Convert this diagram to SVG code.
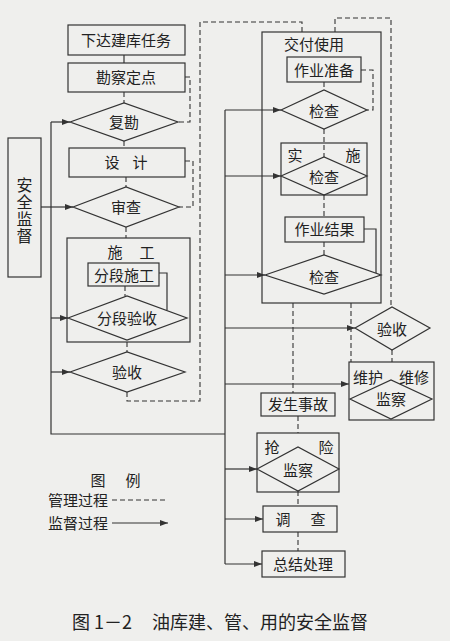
<svg xmlns="http://www.w3.org/2000/svg" width="450" height="641" viewBox="0 0 450 641">
<style>
.b{fill:none;stroke:#333;stroke-width:1.2}
.d{fill:none;stroke:#333;stroke-width:1.1;stroke-dasharray:5 3}
.s{fill:none;stroke:#333;stroke-width:1.2}
.a{fill:none;stroke:#333;stroke-width:1.2;marker-end:url(#ah)}
.t{font-family:"Noto Sans CJK SC","Noto Sans",sans-serif;font-size:15px;fill:#222;text-anchor:middle}
.l{font-family:"Noto Sans CJK SC","Noto Sans",sans-serif;font-size:15px;fill:#222}
.c{font-family:"Noto Sans CJK SC","Noto Sans",sans-serif;font-size:18px;fill:#222}
.v{font-family:"Noto Sans CJK SC","Noto Sans",sans-serif;font-size:16px;fill:#222;text-anchor:middle;writing-mode:vertical-rl;letter-spacing:1px}
</style>
<defs>
<marker id="ah" markerUnits="userSpaceOnUse" markerWidth="9" markerHeight="6" refX="8" refY="3" orient="auto"><path d="M0,0 L8,3 L0,6 z" fill="#333"/></marker>
</defs>
<rect width="450" height="641" fill="#efefed"/>
<g id="connectors">
<line class="s" x1="124" y1="55" x2="124" y2="63"/>
<path class="d" d="M124,92 V103"/>
<path class="d" d="M185,77 H190 V122 H178"/>
<path class="d" d="M124,141 V148"/>
<path class="d" d="M185,161 H193 V207 H179"/>
<path class="d" d="M126,177 V187"/>
<path class="d" d="M126,227 V238"/>
<path class="d" d="M125,286 V296"/>
<path class="s" d="M159,273 H167 V310"/>
<path class="d" d="M127,342 V352"/>
<path class="d" d="M127,392 V401 H200 V22 H302 V32"/>
<path class="d" d="M335,32 V18 H391 V307"/>
<path class="d" d="M324,82 V90"/>
<path class="d" d="M361,70 H373 V110 H367"/>
<path class="d" d="M324,129 V157"/>
<path class="d" d="M324,195 V217"/>
<path class="d" d="M324,242 V255"/>
<path class="s" d="M364,229 H376 V273"/>
<path class="d" d="M293,303 V393"/>
<path class="d" d="M351,303 V362"/>
<path class="d" d="M392,350 V362"/>
<path class="d" d="M298,416 V433"/>
<path class="d" d="M298,491 V506"/>
<path class="d" d="M298,532 V551"/>
<path class="s" d="M51,122 V434 H225"/>
<path class="s" d="M225,110 V564"/>
<line class="a" x1="51" y1="122" x2="70" y2="122"/>
<line class="a" x1="41" y1="207" x2="73" y2="207"/>
<line class="a" x1="51" y1="318" x2="68" y2="318"/>
<line class="a" x1="51" y1="372" x2="70" y2="372"/>
<line class="a" x1="225" y1="110" x2="281" y2="110"/>
<line class="a" x1="225" y1="176" x2="281" y2="176"/>
<line class="a" x1="225" y1="275" x2="265" y2="275"/>
<line class="a" x1="225" y1="328" x2="355" y2="328"/>
<line class="a" x1="225" y1="384" x2="349" y2="384"/>
<line class="a" x1="225" y1="469" x2="257" y2="469"/>
<line class="a" x1="225" y1="519" x2="263" y2="519"/>
<line class="a" x1="225" y1="564" x2="262" y2="564"/>
</g>
<g id="n1"><rect class="b" x="68" y="25" width="117" height="30"/><text class="t" x="126" y="45.5">下达建库任务</text></g>
<g id="n2"><rect class="b" x="68" y="63" width="117" height="29"/><text class="t" x="126" y="83">勘察定点</text></g>
<g id="n3"><polygon class="b" points="70,122 124,103 178,122 124,141"/><text class="t" x="124" y="127.5">复勘</text></g>
<g id="n4"><rect class="b" x="69" y="148" width="116" height="29"/><text class="t" x="112 140" y="168">设计</text></g>
<g id="n5"><polygon class="b" points="73,207 126,187 179,207 126,227"/><text class="t" x="126" y="212.5">审查</text></g>
<g id="n6"><rect class="b" x="8" y="138" width="33" height="139"/><text class="v" x="24.5" y="211">安全监督</text></g>
<g id="n7"><rect class="b" x="67" y="238" width="123" height="104"/><text class="t" x="115 147" y="257.5">施工</text></g>
<g id="n8"><rect class="b" x="88" y="263" width="71" height="23"/><text class="t" x="124" y="280.5">分段施工</text></g>
<g id="n9"><polygon class="b" points="68,318 127,296 187,318 127,340"/><text class="t" x="127" y="323.5">分段验收</text></g>
<g id="n10"><polygon class="b" points="70,372 127,352 185,372 127,392"/><text class="t" x="127" y="377.5">验收</text></g>
<g id="n11"><rect class="b" x="262" y="32" width="119" height="271"/><text class="t" x="314" y="49.5">交付使用</text></g>
<g id="n12"><rect class="b" x="287" y="57" width="74" height="25"/><text class="t" x="324" y="75.5">作业准备</text></g>
<g id="n13"><polygon class="b" points="281,110 324,90 367,110 324,129"/><text class="t" x="324" y="116.5">检查</text></g>
<g id="n14"><rect class="b" x="281" y="143" width="86" height="52"/><text class="t" x="295 353" y="160.5">实施</text><polygon class="b" points="281,176 324,157 367,176 324,195"/><text class="t" x="324" y="182.5">检查</text></g>
<g id="n15"><rect class="b" x="285" y="217" width="79" height="25"/><text class="t" x="324.5" y="235">作业结果</text></g>
<g id="n16"><polygon class="b" points="265,275 324,255 381,275 324,294"/><text class="t" x="324" y="282.5">检查</text></g>
<g id="n17"><polygon class="b" points="355,328 392,307 430,328 392,350"/><text class="t" x="392" y="334.5">验收</text></g>
<g id="n18"><rect class="b" x="349" y="362" width="85" height="58"/><text class="l" x="353 368 399 414" y="382.5">维护维修</text><polygon class="b" points="350,399 391,380 432,399 391,419"/><text class="t" x="391" y="404.5">监察</text></g>
<g id="n19"><rect class="b" x="261" y="393" width="74" height="23"/><text class="t" x="298" y="410">发生事故</text></g>
<g id="n20"><rect class="b" x="257" y="433" width="82" height="59"/><text class="t" x="272 326" y="452.5">抢险</text><polygon class="b" points="257,469 298,447 339,469 298,491"/><text class="t" x="298" y="475.5">监察</text></g>
<g id="n21"><rect class="b" x="263" y="506" width="74" height="26"/><text class="t" x="283 318" y="524.5">调查</text></g>
<g id="n22"><rect class="b" x="262" y="551" width="83" height="26"/><text class="t" x="303" y="569.5">总结处理</text></g>
<g id="legend">
<text class="t" x="98 133" y="485.5">图例</text>
<text class="l" x="48" y="505.5">管理过程</text>
<line class="d" x1="112" y1="500" x2="167" y2="500"/>
<text class="l" x="48" y="528.5">监督过程</text>
<line class="a" x1="112" y1="523" x2="168" y2="523"/>
</g>
<text class="c" y="628.5"><tspan x="72">图</tspan><tspan x="94">1－2</tspan><tspan x="152">油库建、管、用的安全监督</tspan></text>
</svg>
